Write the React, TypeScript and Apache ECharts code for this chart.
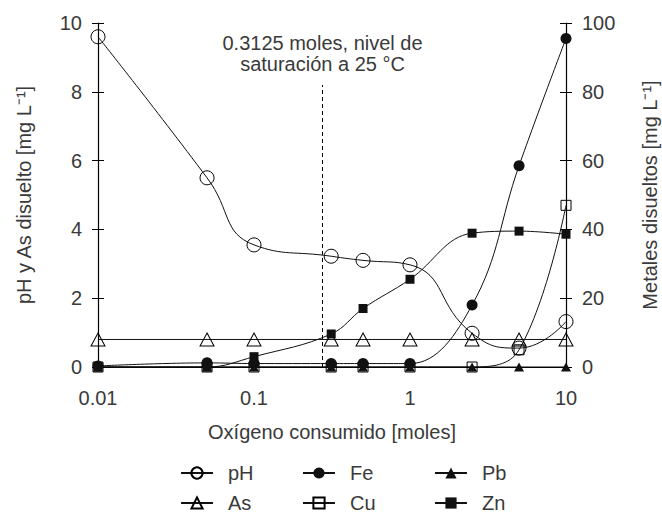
import React, { useEffect, useRef } from "react";
import * as echarts from "echarts";

const oxygen = [0.01, 0.05, 0.1, 0.3125, 0.5, 1, 2.5, 5, 10];
const xTicks = ["0.01", "0.1", "1", "10"];
const pH = [9.6, 5.5, 3.55, 3.22, 3.1, 2.97, 0.98, 0.55, 1.32];
const As = [0.8, 0.8, 0.8, 0.8, 0.8, 0.8, 0.8, 0.8, 0.8];
const Fe = [0.3, 1.2, 1, 1, 1, 1, 18, 58.5, 95.5];
const Cu = [0, 0, 0, 0, 0, 0, 0, 5, 47];
const Pb = [0, 0, 0, 0, 0, 0, 0, 0, 0];
const Zn = [0, 0, 3, 9.6, 17, 25.5, 38.9, 39.5, 38.6];
const saturation = 0.275;
const saturationTop = 8.2;

const FONT = "'Liberation Sans', Arial, sans-serif";
const TXT = "#3a3a3a";

const pairs = (ys: number[]) => oxygen.map((x, i) => [x, ys[i]]);

export default function App() {
  const ref = useRef<HTMLDivElement>(null);
  useEffect(() => {
    if (!ref.current) return;
    const chart = echarts.init(ref.current, null, { renderer: "svg" });
    const hollow = { color: "rgba(0,0,0,0)", borderColor: "#000", borderWidth: 1 };
    const solid = { color: "#111", borderColor: "#111", borderWidth: 0 };
    const line = { color: "#111", width: 1 };
    const legendBase = {
      padding: 0,
      itemWidth: 32,
      itemHeight: 14,
      textStyle: { fontSize: 20, color: TXT, fontFamily: FONT, padding: [0, 0, 0, 10] },
      selectedMode: false,
    };
    const yAxisCommon = {
      type: "value",
      splitLine: { show: false },
      axisLine: { show: true, lineStyle: { color: "#000", width: 1.2 } },
      axisTick: { show: true, length: 6, lineStyle: { color: "#000", width: 1 } },
      axisLabel: { fontSize: 20, color: TXT, fontFamily: FONT, margin: 16 },
      nameLocation: "middle",
      nameRotate: 90,
      nameTextStyle: { fontSize: 20, color: TXT, fontFamily: FONT },
    };
    chart.setOption({
      animation: false,
      backgroundColor: "#fff",
      textStyle: { fontFamily: FONT },
      grid: { left: 98, right: 96, top: 23, bottom: 148, containLabel: false, outerBoundsMode: "none" },
      legend: [
        { ...legendBase, data: ["pH"], left: 180, top: 463 },
        { ...legendBase, data: ["Fe"], left: 302, top: 463 },
        { ...legendBase, data: ["Pb"], left: 434, top: 463 },
        { ...legendBase, data: ["As"], left: 180, top: 493 },
        { ...legendBase, data: ["Cu"], left: 302, top: 493 },
        { ...legendBase, data: ["Zn"], left: 434, top: 493 },
      ],
      xAxis: {
        type: "log",
        logBase: 10,
        min: 0.01,
        max: 10,
        splitLine: { show: false },
        axisLine: { show: true, lineStyle: { color: "#000", width: 1 } },
        axisTick: { show: false },
        axisLabel: {
          fontSize: 20,
          color: TXT,
          fontFamily: FONT,
          margin: 21,
          formatter: (v: number) => {
            const s = xTicks.find((t) => Math.abs(parseFloat(t) - v) < 1e-9);
            return s ?? "";
          },
        },
        name: "Oxígeno consumido [moles]",
        nameLocation: "middle",
        nameGap: 55,
        nameTextStyle: { fontSize: 20, color: TXT, fontFamily: FONT },
      },
      yAxis: [
        {
          ...yAxisCommon,
          position: "left",
          min: 0,
          max: 10,
          interval: 2,
          name: "pH y As disuelto [mg L⁻¹]",
          nameGap: 64,
        },
        {
          ...yAxisCommon,
          position: "right",
          min: 0,
          max: 100,
          interval: 20,
          name: "Metales disueltos [mg L⁻¹]",
          nameGap: 74,
        },
        {
          type: "value",
          position: "left",
          min: 0,
          max: 10,
          interval: 2,
          splitLine: { show: false },
          axisLine: { show: false },
          axisLabel: { show: false },
          axisTick: { show: true, inside: true, length: 6, lineStyle: { color: "#000", width: 1 } },
        },
        {
          type: "value",
          position: "right",
          min: 0,
          max: 100,
          interval: 20,
          splitLine: { show: false },
          axisLine: { show: false },
          axisLabel: { show: false },
          axisTick: { show: true, inside: true, length: 6, lineStyle: { color: "#000", width: 1 } },
        },
      ],
      series: [
        {
          name: "As",
          type: "line",
          yAxisIndex: 0,
          data: pairs(As),
          symbol: "triangle",
          symbolSize: [14, 13],
          itemStyle: hollow,
          lineStyle: line,
          markLine: {
            silent: true,
            symbol: ["none", "none"],
            lineStyle: { type: [4, 3], color: "#000", width: 1 },
            label: {
              show: true,
              position: "end",
              distance: 10,
              formatter: "0.3125 moles, nivel de\nsaturación a 25 °C",
              fontSize: 20,
              lineHeight: 21,
              color: TXT,
              fontFamily: FONT,
            },
            data: [[{ coord: [saturation, 0] }, { coord: [saturation, saturationTop] }]],
          },
        },
        {
          name: "Cu",
          type: "line",
          yAxisIndex: 1,
          data: pairs(Cu),
          symbol: "rect",
          symbolSize: 10,
          smooth: 0.4,
          itemStyle: hollow,
          lineStyle: line,
        },
        {
          name: "Pb",
          type: "line",
          yAxisIndex: 1,
          data: pairs(Pb),
          symbol: "triangle",
          symbolSize: [10, 9],
          itemStyle: solid,
          lineStyle: line,
        },
        {
          name: "pH",
          type: "line",
          yAxisIndex: 0,
          data: pairs(pH),
          symbol: "circle",
          symbolSize: 14,
          smooth: 0.5,
          itemStyle: hollow,
          lineStyle: line,
        },
        {
          name: "Fe",
          type: "line",
          yAxisIndex: 1,
          data: pairs(Fe),
          symbol: "circle",
          symbolSize: 11,
          smooth: 0.4,
          itemStyle: solid,
          lineStyle: line,
        },
        {
          name: "Zn",
          type: "line",
          yAxisIndex: 1,
          data: pairs(Zn),
          symbol: "rect",
          symbolSize: 9,
          smooth: 0.4,
          itemStyle: solid,
          lineStyle: line,
        },
      ],
    });
    return () => chart.dispose();
  }, []);
  return <div ref={ref} style={{ width: 662, height: 515, position: "absolute", left: 0, top: 0 }} />;
}
